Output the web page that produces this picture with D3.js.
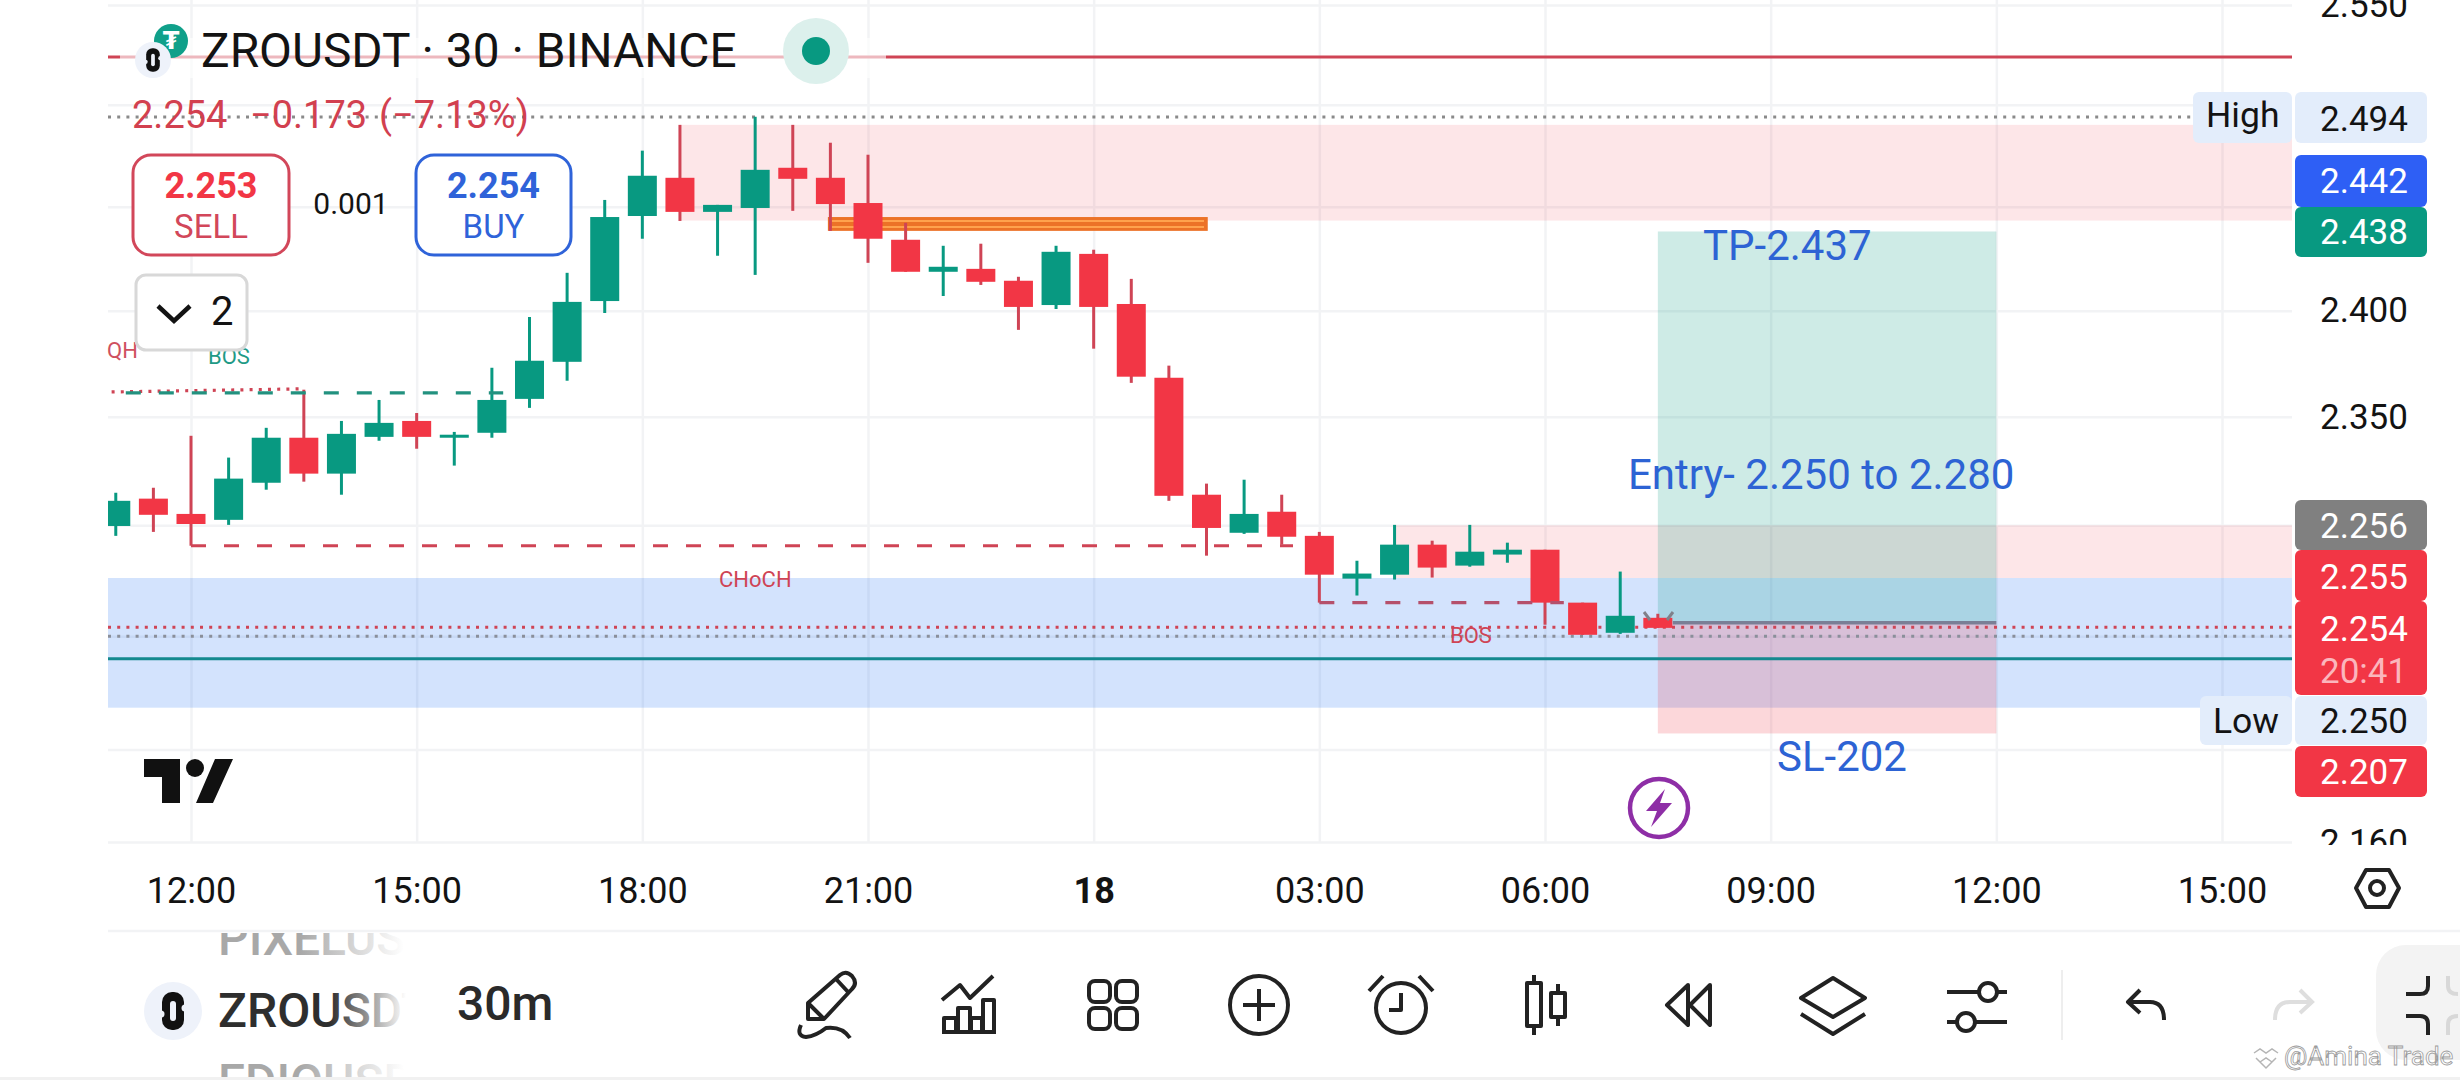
<!DOCTYPE html>
<html>
<head>
<meta charset="utf-8">
<title>ZROUSDT 30</title>
<script src="https://cdn.jsdelivr.net/npm/d3@7/dist/d3.min.js"></script>
<style>
    html, body { margin: 0; padding: 0; background: #fff; }
    svg { display: block; }
    text { font-family: Roboto, sans-serif; }
    .icon { fill: none; stroke: #222; stroke-width: 4; stroke-linejoin: round; }
</style>
</head>
<body>
<svg id="chart" width="2460" height="1080"></svg>
<script>
// 30 minute bars, first bar is 11:00 on the 17th
const opens  = [2.2997, 2.3122, 2.3052, 2.3025, 2.3195, 2.3403, 2.3237, 2.3407, 2.3481, 2.3403, 2.3426, 2.3584, 2.3758, 2.4046, 2.4455, 2.4641, 2.4475, 2.4494, 2.4690, 2.4641, 2.4518, 2.4340, 2.4186, 2.4200, 2.4143, 2.4027, 2.4272, 2.4032, 2.3683, 2.3140, 2.2966, 2.3062, 2.2952, 2.2758, 2.2776, 2.2912, 2.2817, 2.2867, 2.2889, 2.2650, 2.2515, 2.2582];
const highs  = [2.3149, 2.3172, 2.3412, 2.3311, 2.3449, 2.3627, 2.3481, 2.3579, 2.3518, 2.3430, 2.3730, 2.3970, 2.4181, 2.4533, 2.4774, 2.4901, 2.4509, 2.4941, 2.4901, 2.4813, 2.4754, 2.4422, 2.4311, 2.4321, 2.4162, 2.4311, 2.4292, 2.4152, 2.3740, 2.3191, 2.3209, 2.3140, 2.2970, 2.2839, 2.3002, 2.2930, 2.3002, 2.2921, 2.2889, 2.2650, 2.2790, 2.2600];
const lows   = [2.2952, 2.2970, 2.2907, 2.3002, 2.3163, 2.3200, 2.3140, 2.3389, 2.3352, 2.3274, 2.3403, 2.3542, 2.3669, 2.3989, 2.4345, 2.4431, 2.4263, 2.4171, 2.4480, 2.4383, 2.4229, 2.4186, 2.4070, 2.4123, 2.3909, 2.4008, 2.3820, 2.3659, 2.3112, 2.2862, 2.2961, 2.2912, 2.2650, 2.2682, 2.2754, 2.2763, 2.2812, 2.2830, 2.2551, 2.2506, 2.2510, 2.2537];
const closes = [2.3112, 2.3048, 2.3006, 2.3214, 2.3403, 2.3237, 2.3421, 2.3472, 2.3407, 2.3417, 2.3579, 2.3763, 2.4042, 2.4450, 2.4651, 2.4475, 2.4509, 2.4680, 2.4636, 2.4513, 2.4345, 2.4186, 2.4210, 2.4138, 2.4018, 2.4282, 2.4018, 2.3688, 2.3135, 2.2988, 2.3052, 2.2948, 2.2776, 2.2781, 2.2912, 2.2808, 2.2880, 2.2889, 2.2650, 2.2506, 2.2591, 2.2537];

const priceTicks  = [2.55, 2.5, 2.45, 2.4, 2.35, 2.3, 2.25, 2.2, 2.16];
const priceLabels = [2.55, 2.4, 2.35, 2.16];   // the others sit under the badges

const timeTicks = [
    new Date(2024, 5, 17, 12), new Date(2024, 5, 17, 15), new Date(2024, 5, 17, 18), new Date(2024, 5, 17, 21),
    new Date(2024, 5, 18, 0), new Date(2024, 5, 18, 3), new Date(2024, 5, 18, 6), new Date(2024, 5, 18, 9),
    new Date(2024, 5, 18, 12), new Date(2024, 5, 18, 15)
];
const timeLabels = ["12:00", "15:00", "18:00", "21:00", "18", "03:00", "06:00", "09:00", "12:00", "15:00"];

// supply / demand zones: [first bar, top price, bottom price]
const pinkZones = [[15, 2.4901, 2.4433], [34, 2.3000, 2.2761]];
const blueZone  = [2.2761, 2.2183];

// position tool
const targetPrice = 2.438, entryPrice = 2.256, stopPrice = 2.207;
const toolBars = [41, 50];

const highLevel = 2.494, lowLevel = 2.250, lastClose = 2.254, topLevel = 2.5238, tealLevel = 2.2399;

// ---------- layout ----------
const plotLeft = 108, plotRight = 2292, plotBottom = 842;
const red = "#f23645", redLine = "#cf4455", green = "#089981", blue = "#2d63d4";

const svg = d3.select("#chart");
const defs = svg.append("defs");

defs.append("clipPath").attr("id", "plot-clip")
    .append("rect").attr("x", plotLeft).attr("y", 0).attr("width", plotRight - plotLeft).attr("height", plotBottom);
defs.append("clipPath").attr("id", "axis-clip")
    .append("rect").attr("x", 0).attr("y", 0).attr("width", 2460).attr("height", 845);
defs.append("clipPath").attr("id", "picker-clip")
    .append("rect").attr("x", 150).attr("y", 933).attr("width", 258).attr("height", 144);

const fades = [["fade-main", "#2e2e2e", 330, 406], ["fade-side", "#a8a8a8", 300, 404]];
fades.forEach(f => {
    const g = defs.append("linearGradient").attr("id", f[0])
        .attr("gradientUnits", "userSpaceOnUse")
        .attr("x1", f[2]).attr("x2", f[3]).attr("y1", 0).attr("y2", 0);
    g.append("stop").attr("offset", 0).attr("stop-color", f[1]);
    g.append("stop").attr("offset", 1).attr("stop-color", "#ffffff");
});

const xScale = d3.scaleTime()
    .domain([new Date(2024, 5, 17, 12), new Date(2024, 5, 18, 15)])
    .range([191, 2222]);

const yScale = d3.scaleLog()
    .domain([2.55, 2.16])
    .range([5, 842]);

const barTime = i => new Date(2024, 5, 17, 11, i * 30);
const barX = i => xScale(barTime(i));

// ---------- axes + grid ----------
const xAxis = d3.axisBottom(xScale)
    .tickValues(timeTicks)
    .tickFormat((d, i) => timeLabels[i])
    .tickSize(-plotBottom)
    .tickPadding(35);

const yAxis = d3.axisRight(yScale)
    .tickValues(priceTicks)
    .tickFormat(d => priceLabels.includes(d) ? d3.format(".3f")(d) : "")
    .tickSize(-(plotRight - plotLeft))
    .tickPadding(28);

const xAxisG = svg.append("g").attr("transform", `translate(0,${plotBottom})`).call(xAxis);
const yAxisG = svg.append("g").attr("clip-path", "url(#axis-clip)")
    .append("g").attr("transform", `translate(${plotRight},0)`).call(yAxis);

[xAxisG, yAxisG].forEach(a => {
    a.select(".domain").remove();
    a.selectAll("line").attr("stroke", "#f2f3f5").attr("stroke-width", 2.5);
    a.selectAll("text").attr("fill", "#131313").attr("font-size", 35).attr("font-family", "Roboto, sans-serif");
});
xAxisG.selectAll("text").attr("font-size", 36);
xAxisG.selectAll("text").filter((d, i) => timeLabels[i] === "18").attr("font-weight", 700);

svg.append("line").attr("x1", plotLeft).attr("x2", 2460).attr("y1", 931).attr("y2", 931)
    .attr("stroke", "#f2f3f5").attr("stroke-width", 2.5);

// ---------- zones and levels behind the bars ----------
const plot = svg.append("g").attr("clip-path", "url(#plot-clip)");

plot.append("g").selectAll("rect").data(pinkZones).join("rect")
    .attr("x", d => barX(d[0]))
    .attr("y", d => yScale(d[1]))
    .attr("width", d => plotRight - barX(d[0]))
    .attr("height", d => yScale(d[2]) - yScale(d[1]))
    .attr("fill", "rgba(242,54,69,0.125)");

plot.append("rect")
    .attr("x", plotLeft).attr("width", plotRight - plotLeft)
    .attr("y", yScale(blueZone[0]))
    .attr("height", yScale(blueZone[1]) - yScale(blueZone[0]))
    .attr("fill", "rgba(35,115,245,0.2)");

// position tool
plot.append("rect")
    .attr("x", barX(toolBars[0])).attr("width", barX(toolBars[1]) - barX(toolBars[0]))
    .attr("y", yScale(targetPrice)).attr("height", yScale(entryPrice) - yScale(targetPrice))
    .attr("fill", "rgba(8,153,129,0.2)");
plot.append("rect")
    .attr("x", barX(toolBars[0])).attr("width", barX(toolBars[1]) - barX(toolBars[0]))
    .attr("y", yScale(entryPrice)).attr("height", yScale(stopPrice) - yScale(entryPrice))
    .attr("fill", "rgba(242,54,69,0.2)");

// last price, high, low and the long red / teal levels
const hLine = (price, color, width, dash) => plot.append("line")
    .attr("x1", plotLeft).attr("x2", plotRight)
    .attr("y1", yScale(price)).attr("y2", yScale(price))
    .attr("stroke", color).attr("stroke-width", width)
    .attr("stroke-dasharray", dash);

hLine(topLevel, redLine, 3);
hLine(highLevel, "#8a8a8a", 3, "3 6.2");
hLine(lastClose, redLine, 3, "3 6.2");
hLine(lowLevel, "#8a8f9a", 3, "3 6.2");
hLine(tealLevel, "#14898f", 3);

// white veil behind the title
svg.append("rect").attr("x", 120).attr("y", 38).attr("width", 766).attr("height", 40)
    .attr("fill", "rgba(255,255,255,0.62)");

// orange order block
plot.append("rect")
    .attr("x", barX(18.96)).attr("width", barX(29.05) - barX(18.96))
    .attr("y", yScale(2.445)).attr("height", yScale(2.4383) - yScale(2.445))
    .attr("fill", "#ec7227");
[2.4431, 2.4402].forEach(p => plot.append("line")
    .attr("x1", barX(19.05)).attr("x2", barX(28.95))
    .attr("y1", yScale(p)).attr("y2", yScale(p))
    .attr("stroke", "#ffa24d").attr("stroke-width", 2));

// ---------- candles ----------
const bars = opens.map((o, i) => ({i, o, h: highs[i], l: lows[i], c: closes[i]}));
const bodyWidth = 29;
const isUp = d => d.c >= d.o;

plot.append("g").selectAll("line").data(bars).join("line")
    .attr("x1", d => barX(d.i)).attr("x2", d => barX(d.i))
    .attr("y1", d => yScale(d.h)).attr("y2", d => yScale(d.l))
    .attr("stroke", d => isUp(d) ? green : redLine)
    .attr("stroke-width", 3);

plot.append("g").selectAll("rect").data(bars).join("rect")
    .attr("x", d => barX(d.i) - bodyWidth / 2)
    .attr("width", bodyWidth)
    .attr("y", d => yScale(Math.max(d.o, d.c)))
    .attr("height", d => Math.max(3, Math.abs(yScale(d.o) - yScale(d.c))))
    .attr("fill", d => isUp(d) ? green : red);

// ---------- structure lines ----------
const segment = (i0, p0, i1, p1, color, dash) => plot.append("line")
    .attr("x1", barX(i0)).attr("x2", barX(i1))
    .attr("y1", yScale(p0)).attr("y2", yScale(p1))
    .attr("stroke", color).attr("stroke-width", 3.2)
    .attr("stroke-dasharray", dash);

segment(-0.6, 2.3615, 5, 2.3631, redLine, "3 6.2");
segment(0.27, 2.3612, 10.3, 2.3612, "#22917f", "15 18");
segment(2, 2.2907, 31.3, 2.2907, redLine, "15 18");
segment(32, 2.2650, 38.5, 2.2650, "#b5506b", "15 18");

// entry line + the two little ticks on the last bar
plot.append("line")
    .attr("x1", barX(41.4)).attr("x2", barX(toolBars[1]))
    .attr("y1", yScale(entryPrice)).attr("y2", yScale(entryPrice))
    .attr("stroke", "#7a7f96").attr("stroke-width", 3.5);
[[1644, 612, 1650, 620], [1673, 612, 1667, 620]].forEach(t => plot.append("line")
    .attr("x1", t[0]).attr("y1", t[1]).attr("x2", t[2]).attr("y2", t[3])
    .attr("stroke", "#80808a").attr("stroke-width", 3));

// ---------- drawing labels ----------
const label = (txt, x, y, size, color, opts = {}) => svg.append("text")
    .text(txt).attr("x", x).attr("y", y)
    .attr("font-size", size).attr("fill", color)
    .attr("font-weight", opts.weight || 400)
    .attr("text-anchor", opts.anchor || "start");

label("QH", 107, 358, 22, "#cf5060");
label("CHoCH", 719, 587, 22, "#cf4455");
label("BOS", 1450, 643, 22, "#cf4455");
label("BOS", 208, 364, 22, "#1f9a86");

label("TP-2.437", 1703, 260, 42, blue);
label("Entry- 2.250 to 2.280", 1628, 489, 42, blue);
label("SL-202", 1777, 771, 42, blue);

// ---------- header ----------
const coin = (cx, cy, r, k) => {
    const g = svg.append("g").attr("transform", `translate(${cx},${cy}) scale(${k})`);
    g.append("circle").attr("r", r / k).attr("fill", "#eef2fa");
    g.append("rect").attr("x", -11).attr("y", -19).attr("width", 22).attr("height", 38).attr("rx", 10).attr("fill", "#111");
    g.append("rect").attr("x", -3).attr("y", -10).attr("width", 6).attr("height", 20).attr("rx", 3).attr("fill", "#eef2fa");
    g.append("circle").attr("cx", -12).attr("cy", 3).attr("r", 3.5).attr("fill", "#eef2fa");
    g.append("circle").attr("cx", 12).attr("cy", -3).attr("r", 3.5).attr("fill", "#eef2fa");
};

svg.append("circle").attr("cx", 171).attr("cy", 41).attr("r", 17).attr("fill", "#10a08a");
label("₮", 171, 49, 24, "#ffffff", {anchor: "middle", weight: 700}).style("font-family", "DejaVu Sans");
coin(153, 60, 18, 0.62);

label("ZROUSDT · 30 · BINANCE", 201, 67, 47.8, "#131313");
svg.append("circle").attr("cx", 816).attr("cy", 51).attr("r", 33).attr("fill", "#dcf0ec");
svg.append("circle").attr("cx", 816).attr("cy", 51).attr("r", 14).attr("fill", green);

label("2.254", 132, 128, 38, "#d2404f");
label("−0.173", 250, 128, 38, "#d2404f");
label("(−7.13%)", 379, 128, 38, "#d2404f");

const tradeBox = (x, w, color, price, priceColor, name) => {
    svg.append("rect").attr("x", x).attr("y", 155).attr("width", w).attr("height", 100)
        .attr("rx", 18).attr("fill", "#fff").attr("stroke", color).attr("stroke-width", 3);
    label(price, x + w / 2, 198, 36, priceColor, {anchor: "middle", weight: 700});
    label(name, x + w / 2, 238, 33, color, {anchor: "middle"});
};
tradeBox(133, 156, "#d2475a", "2.253", red, "SELL");
tradeBox(416, 155, "#2f63d9", "2.254", "#2f63d9", "BUY");
label("0.001", 351, 214, 30, "#131313", {anchor: "middle"});

svg.append("rect").attr("x", 136).attr("y", 275).attr("width", 111).attr("height", 75)
    .attr("rx", 10).attr("fill", "#fff").attr("stroke", "#d8d8d8").attr("stroke-width", 3);
svg.append("path").attr("d", "M158,306 L174,321 L190,306").attr("fill", "none")
    .attr("stroke", "#131313").attr("stroke-width", 4.5);
label("2", 211, 325, 40, "#131313");

// TradingView mark
svg.append("path").attr("fill", "#111")
    .attr("d", "M144,759 H180 V803 H162 V777 H144 Z M215,759 H233 L213,803 H196 Z");
svg.append("circle").attr("cx", 195).attr("cy", 768).attr("r", 9).attr("fill", "#111");

// bolt badge
svg.append("circle").attr("cx", 1659).attr("cy", 808).attr("r", 29)
    .attr("fill", "#fff").attr("stroke", "#8e2ea6").attr("stroke-width", 4.5);
svg.append("path").attr("fill", "#8e2ea6")
    .attr("d", "M1665,789 L1646,811 H1657 L1651,827 L1672,803 H1660 Z");

// ---------- price badges ----------
const badge = (x, w, y0, y1, fill, rx = 6) => svg.append("rect")
    .attr("x", x).attr("y", y0).attr("width", w).attr("height", y1 - y0).attr("rx", rx).attr("fill", fill);

badge(2193, 99, 92, 143, "#e3edfb");
badge(2200, 92, 696, 745, "#e3edfb");
badge(2295, 132, 92, 143, "#e3edfb");
badge(2295, 132, 155, 207, "#2e5ff5");
badge(2295, 132, 207, 257, green);
badge(2295, 132, 500, 550, "#808080");
badge(2295, 132, 550, 601, red);
badge(2295, 132, 601, 695, red);
badge(2295, 132, 696, 745, "#e3edfb");
badge(2295, 132, 746, 797, red);

label("High", 2206, 127, 35.5, "#131313");
label("Low", 2213, 733, 35.5, "#131313");
const badgeText = [
    ["2.494", 131, "#131313"], ["2.442", 193, "#fff"], ["2.438", 244, "#fff"], ["2.256", 538, "#fff"],
    ["2.255", 589, "#fff"], ["2.254", 641, "#fff"], ["20:41", 683, "#fbb6bd"], ["2.250", 733, "#131313"], ["2.207", 784, "#fff"]
];
badgeText.forEach(b => label(b[0], 2320, b[1], 35, b[2]));

// settings hexagon under the price scale
svg.append("path").attr("class", "icon")
    .attr("d", "M2356,888 L2366,870 H2389 L2399,888 L2389,907 H2366 Z");
svg.append("circle").attr("class", "icon").attr("cx", 2377).attr("cy", 888).attr("r", 7);

// ---------- bottom bar ----------
svg.append("rect").attr("x", 0).attr("y", 1077).attr("width", 2460).attr("height", 3).attr("fill", "#f1f1f1");

const picker = svg.append("g").attr("clip-path", "url(#picker-clip)");
[["PIXELUS", 955, "fade-side"], ["ZROUSDT", 1027, "fade-main"], ["EDIOUSD", 1098, "fade-side"]].forEach(p => picker.append("text")
    .text(p[0]).attr("x", 218).attr("y", p[1])
    .attr("font-size", 48).attr("font-weight", 500).attr("fill", `url(#${p[2]})`));
coin(173, 1011, 29, 1);
label("30m", 457, 1020, 48, "#2a2a2a", {weight: 500});

const icons = svg.append("g").attr("class", "icon");
const iconPaths = [
    // pencil
    "M808,1019 V1003 L840,975 Q846,970 852,976 Q858,983 852,989 L824,1019 Z M836,979 L849,993 M808,1003 L824,1019",
    "M801,1025 Q796,1036 806,1037 Q816,1036 826,1028 Q842,1026 850,1038",
    // indicators
    "M942,1000 L960,985 L970,998 L993,976 M944,1032 V1018 H956 V1032 M958,1032 V1008 H970 V1032 M971,1032 V1018 H982 V1032 M983,1032 V1000 H994 V1032 M942,1032 H996",
    // plus inside the circle
    "M1259,989 V1021 M1243,1005 H1275",
    // alarm
    "M1401,993 V1010 H1389 M1369,991 L1383,976 M1433,991 L1419,976",
    // candles
    "M1527,983 H1541 V1026 H1527 Z M1534,975 V983 M1534,1026 V1035 M1551,993 H1565 V1017 H1551 Z M1558,984 V993 M1558,1017 V1026",
    // rewind
    "M1688,985 L1667,1005 L1688,1025 Z M1710,985 L1690,1005 L1710,1025 Z",
    // layers
    "M1833,978 L1865,998 L1833,1017 L1801,998 Z M1801,1014 L1833,1034 L1865,1014",
    // sliders
    "M1947,992 H1978 M1998,992 H2007 M1947,1022 H1956 M1976,1022 H2007",
    // undo
    "M2128,1002 H2150 Q2164,1002 2164,1020 M2140,990 L2128,1002 L2140,1013"
];
icons.selectAll("path").data(iconPaths).join("path").attr("d", d => d);

[[1089, 981], [1116, 981], [1089, 1008], [1116, 1008]].forEach(c => icons.append("rect")
    .attr("x", c[0]).attr("y", c[1]).attr("width", 21).attr("height", 21).attr("rx", 6));
[[1259, 1005, 29], [1401, 1008, 25], [1988, 992, 9], [1966, 1022, 9]].forEach(c => icons.append("circle")
    .attr("cx", c[0]).attr("cy", c[1]).attr("r", c[2]));

svg.append("line").attr("x1", 2062).attr("x2", 2062).attr("y1", 970).attr("y2", 1040)
    .attr("stroke", "#eeeeee").attr("stroke-width", 2);
svg.append("path").attr("d", "M2275,1020 Q2275,1002 2290,1002 H2312 M2300,990 L2312,1002 L2300,1013")
    .attr("fill", "none").attr("stroke", "#dedede").attr("stroke-width", 4);

svg.append("rect").attr("x", 2376).attr("y", 945).attr("width", 120).attr("height", 115).attr("rx", 30).attr("fill", "#f3f3f3");
svg.append("path").attr("class", "icon")
    .attr("d", "M2406,994 H2420 Q2428,994 2428,986 V976 M2406,1016 H2420 Q2428,1016 2428,1024 V1035");
svg.append("path").attr("d", "M2448,976 V986 Q2448,994 2458,994 M2448,1035 V1024 Q2448,1016 2458,1016")
    .attr("fill", "none").attr("stroke", "#d8d8d8").attr("stroke-width", 4);

// watermark
svg.append("path").attr("fill", "none").attr("stroke", "#b5b5b5").attr("stroke-width", 1.5)
    .attr("d", "M2254,1053 L2260,1049 L2266,1053 L2272,1049 L2278,1053 M2256,1058 L2266,1068 L2276,1058 M2260,1062 L2266,1058 L2272,1062");
label("@Amina Trade", 2284, 1065, 26, "#ffffff").attr("stroke", "#9a9a9a").attr("stroke-width", 0.8);
</script>
</body>
</html>
